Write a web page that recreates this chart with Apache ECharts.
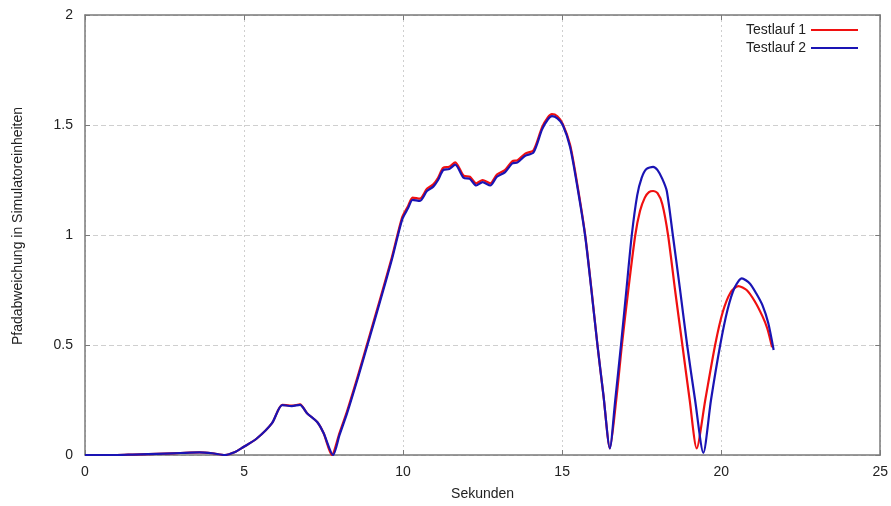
<!DOCTYPE html>
<html><head><meta charset="utf-8">
<script src="https://cdn.jsdelivr.net/npm/echarts@6/dist/echarts.min.js"></script>
<style>html,body{margin:0;padding:0;background:#fff}#c{width:891px;height:506px}</style>
</head><body><div id="c"></div>
<script>
const seriesNames = ["Testlauf 1", "Testlauf 2"];
const xTicks = [0, 5, 10, 15, 20, 25];
const yTicks = [0, 0.5, 1, 1.5, 2];
const xTitle = "Sekunden";
const yTitle = "Pfadabweichung in Simulatoreinheiten";

const t1 = [0,1,1.5,2,2.5,3,3.6,4.0,4.4,4.7,4.97,5.4,5.88,6.2,6.5,6.76,6.98,7.3,7.5,7.76,8.0,8.24,8.6,8.96,9.28,9.65,9.97,10.15,10.3,10.53,10.75,10.95,11.1,11.26,11.45,11.64,11.9,12.1,12.3,12.5,12.74,12.95,13.2,13.43,13.6,13.84,14.1,14.37,14.55,14.68,14.85,15.02,15.25,15.46,15.72,15.92,16.11,16.3,16.5,16.7,16.88,17.08,17.3,17.45,17.6,17.73,17.86,18.0,18.15,18.33,18.55,18.78,19.01,19.23,19.5,19.81,20.05,20.3,20.54,20.8,21.05,21.3,21.45,21.6];
const v1 = [0,0,0.002,0.004,0.006,0.009,0.012,0.008,0,0.012,0.035,0.075,0.145,0.228,0.224,0.23,0.19,0.15,0.1,0.0,0.1,0.2,0.37,0.55,0.71,0.9,1.08,1.13,1.17,1.165,1.21,1.23,1.26,1.305,1.31,1.33,1.27,1.265,1.235,1.25,1.235,1.275,1.295,1.335,1.34,1.37,1.385,1.49,1.535,1.55,1.54,1.505,1.41,1.245,1.005,0.755,0.5,0.27,0.03,0.25,0.5,0.75,1.0,1.11,1.17,1.195,1.2,1.19,1.14,1.0,0.75,0.5,0.25,0.03,0.25,0.5,0.65,0.74,0.768,0.75,0.7,0.63,0.575,0.49];

const t2 = [0,1,1.5,2,2.5,3,3.6,4.0,4.4,4.7,4.97,5.4,5.88,6.2,6.5,6.76,6.98,7.3,7.5,7.8,8.0,8.24,8.6,8.96,9.28,9.65,9.97,10.15,10.3,10.53,10.75,10.95,11.1,11.26,11.45,11.64,11.9,12.1,12.3,12.5,12.74,12.95,13.2,13.43,13.6,13.84,14.1,14.37,14.55,14.68,14.85,15.02,15.25,15.46,15.72,15.92,16.11,16.3,16.5,16.67,16.85,17.02,17.19,17.36,17.5,17.65,17.86,18.0,18.15,18.29,18.48,18.7,18.93,19.18,19.44,19.68,19.97,20.2,20.42,20.65,20.9,21.1,21.3,21.48,21.65];
const v2 = [0,0,0.002,0.004,0.006,0.009,0.012,0.008,0,0.012,0.035,0.075,0.145,0.227,0.222,0.228,0.19,0.15,0.1,0.0,0.09,0.19,0.36,0.54,0.7,0.89,1.07,1.12,1.16,1.155,1.2,1.22,1.25,1.295,1.3,1.32,1.26,1.255,1.225,1.24,1.225,1.265,1.285,1.325,1.33,1.36,1.375,1.48,1.525,1.54,1.53,1.5,1.4,1.235,1.0,0.75,0.5,0.27,0.03,0.25,0.5,0.75,1.0,1.18,1.26,1.3,1.31,1.295,1.255,1.2,1.0,0.76,0.5,0.25,0.01,0.25,0.5,0.66,0.76,0.803,0.78,0.735,0.68,0.6,0.477];

const pair = (t, v) => t.map((x, i) => [x, v[i]]);
const FONT = "Liberation Sans";
const chart = echarts.init(document.getElementById('c'), null, {renderer: 'canvas'});
const frame = {onZero: false, lineStyle: {color: '#7a7a7a', width: 1.5}};
const tick = {show: true, inside: true, length: 5, lineStyle: {color: '#7a7a7a'}};
chart.setOption({
  animation: false,
  backgroundColor: '#fff',
  textStyle: {fontFamily: FONT},
  grid: {left: 85, right: 9, top: 15, bottom: 50},
  legend: {
    top: 18, right: 28, orient: 'vertical', align: 'right',
    itemWidth: 47, itemHeight: 2, itemGap: 4,
    icon: 'rect',
    textStyle: {fontFamily: FONT, fontSize: 14, color: '#222'},
    data: seriesNames
  },
  graphic: [{
    type: 'text', rotation: Math.PI / 2,
    x: 18, y: 226,
    style: {text: yTitle, font: '14px "Liberation Sans"', fill: '#222',
      textAlign: 'center', textVerticalAlign: 'middle'}
  }],
  xAxis: [{
    type: 'value', min: 0, max: 25, interval: 5,
    name: xTitle, nameLocation: 'middle', nameGap: 32,
    nameTextStyle: {fontFamily: FONT, fontSize: 14, color: '#222'},
    axisLine: frame, axisTick: tick,
    axisLabel: {fontFamily: FONT, fontSize: 14, color: '#222', margin: 10,
      formatter: v => xTicks.includes(v) ? String(v) : ''},
    splitLine: {show: true, lineStyle: {color: '#cfcfcf', type: [2, 3], width: 1}}
  }, {
    type: 'value', position: 'top', min: 0, max: 25, interval: 5,
    axisLine: frame, axisTick: tick,
    axisLabel: {show: false}, splitLine: {show: false}
  }],
  yAxis: [{
    type: 'value', min: 0, max: 2, interval: 0.5,
    axisLine: {show: true, ...frame}, axisTick: tick,
    axisLabel: {fontFamily: FONT, fontSize: 14, color: '#222', margin: 12,
      formatter: v => yTicks.includes(v) ? String(v) : ''},
    splitLine: {show: true, lineStyle: {color: '#cfcfcf', type: [5, 3], width: 1}}
  }, {
    type: 'value', position: 'right', min: 0, max: 2, interval: 0.5,
    axisLine: {show: true, ...frame}, axisTick: tick,
    axisLabel: {show: false}, splitLine: {show: false}
  }],
  series: [{
    name: seriesNames[0], type: 'line', data: pair(t1, v1),
    showSymbol: false, smooth: 0.25, color: '#f01010',
    lineStyle: {width: 2.2, color: '#f01010', join: 'round'}
  }, {
    name: seriesNames[1], type: 'line', data: pair(t2, v2),
    showSymbol: false, smooth: 0.25, color: '#1a14b4',
    lineStyle: {width: 2.2, color: '#1a14b4', join: 'round'}
  }]
});
</script></body></html>
